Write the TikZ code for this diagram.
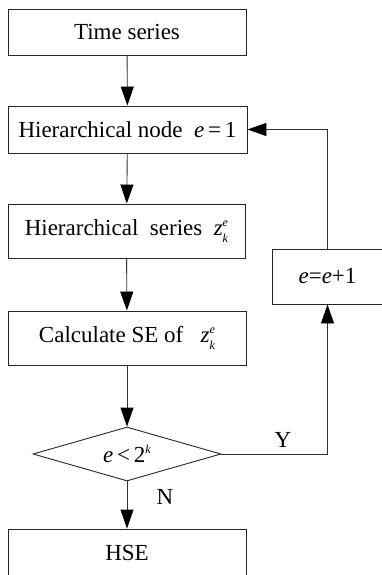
\documentclass[tikz,border=0pt]{standalone}
\usepackage{fontspec}
\setmainfont{Liberation Serif}
\usetikzlibrary{arrows.meta,shapes.geometric}
\tikzset{
  box/.style={draw=black!85, line width=0.9pt, rectangle, inner sep=0pt, font=\fontsize{23}{27}\selectfont},
  dec/.style={draw=black!85, line width=0.9pt, diamond, aspect=3.48, inner sep=0pt, minimum width=188pt, minimum height=54pt, font=\fontsize{23}{27}\selectfont},
  arr/.style={draw=black!80, line width=0.9pt, -{Triangle[length=19pt,width=13pt,fill=black,color=black]}},
  lbl/.style={font=\fontsize{23}{27}\selectfont, inner sep=0pt}
}
\newcommand{\ii}[1]{\textit{#1}}
\newcommand{\smi}[1]{{\fontsize{12}{12}\selectfont\textit{#1}}}
\newcommand{\zke}{\textit{z}\rlap{\raisebox{9pt}{\smi{e}}}\raisebox{-7pt}{\smi{k}}}
\begin{document}
\begin{tikzpicture}[x=1pt,y=-1pt]
\useasboundingbox (0,0) rectangle (382,575);
\node[box, minimum width=238pt, minimum height=46pt] (b1) at (127,32) {Time series};
\node[box, minimum width=239pt, minimum height=47pt] (b2) at (127.5,129.5) {Hierarchical node \ \ii{e}\,=\,1};
\node[box, minimum width=237pt, minimum height=54pt] (b3) at (126.5,231) {Hierarchical\ \ series \ \zke};
\node[box, minimum width=238pt, minimum height=54pt] (b4) at (127,338) {Calculate SE of \ \ \zke};
\node[dec] (d) at (127,454) {\ii{e}\,<\,2\raisebox{9pt}{\smi{k}}};
\node[box, minimum width=238pt, minimum height=48pt] (b5) at (127,553) {HSE};
\node[box, minimum width=110pt, minimum height=55pt] (r) at (327.5,276.5) {\ii{e}=\ii{e}+1};
\draw[arr] (b1) -- (b2);
\draw[arr] (b2) -- (b3);
\draw[arr] (b3) -- (b4);
\draw[arr] (b4) -- (d);
\draw[arr] (d) -- (b5);
\draw[arr] (d.east) -| (r.south);
\draw[arr] (r.north) |- (b2.east);
\node[lbl] (y) at (283,440) {Y};
\node[lbl] (n) at (165,497) {N};
\end{tikzpicture}
\end{document}
